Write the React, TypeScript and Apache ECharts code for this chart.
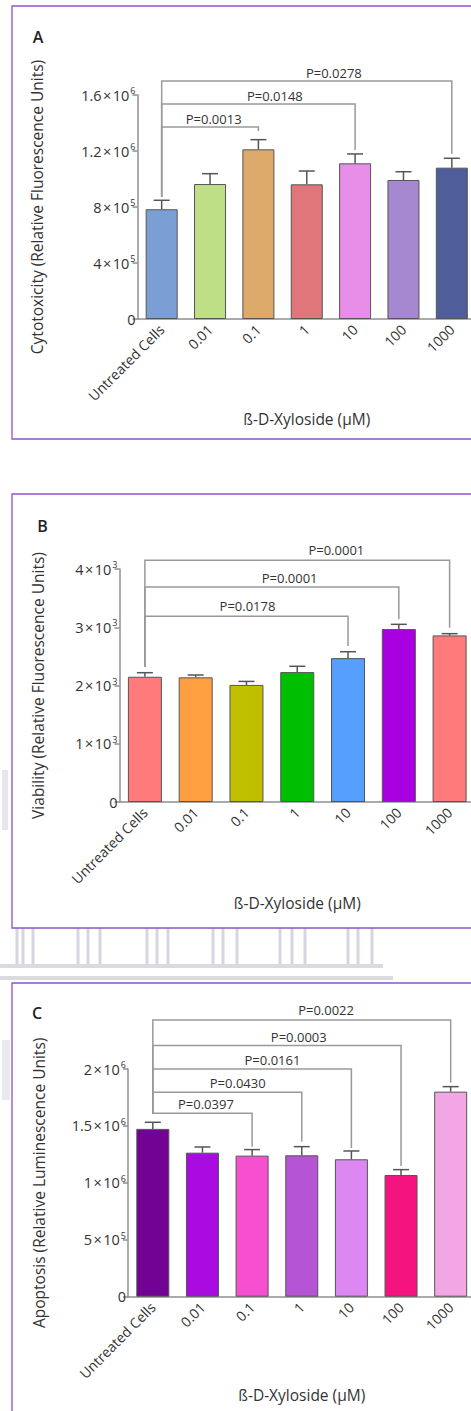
import React, { useEffect, useRef } from "react";
import * as echarts from "echarts";

const FONT = '"Open Sans", "Noto Sans", sans-serif';

const categories = ["Untreated Cells", "0.01", "0.1", "1", "10", "100", "1000"];
const xTitle = "ß-D-Xyloside (µM)";

// Panel A — Cytotoxicity
const valuesA = [7.84e5, 9.64e5, 12.12e5, 9.62e5, 11.12e5, 9.93e5, 10.81e5];
const errorsA = [0.64e5, 0.74e5, 0.69e5, 0.95e5, 0.67e5, 0.59e5, 0.67e5];
const colorsA = ["#7B9FD4", "#BEDF86", "#DDAA6C", "#E07679", "#E68EE8", "#A688D0", "#4F5D9A"];
const pLabelsA = ["P=0.0013", "P=0.0148", "P=0.0278"];
const pTargetsA = [2, 4, 6];
const pLevelsA = [13.71e5, 15.36e5, 17.0e5];
const pEndsA = [13.43e5, 12.07e5, 11.79e5];
const pStartA = 8.71e5;
const pTextXA = [1.075, 2.34, 3.56];
const pTextYA = [14.29e5, 15.93e5, 17.57e5];
const yMaxA = 1.6e6;
const yStepA = 4e5;

// Panel B — Viability
const valuesB = [2150, 2140, 2010, 2230, 2470, 2970, 2860];
const errorsB = [70, 40, 60, 100, 110, 80, 30];
const colorsB = ["#FF7B7B", "#FF9F40", "#BFBF00", "#00BF00", "#569FFF", "#A800E0", "#FF7B7B"];
const pLabelsB = ["P=0.0178", "P=0.0001", "P=0.0001"];
const pTargetsB = [4, 5, 6];
const pLevelsB = [3190, 3693, 4151];
const pEndsB = [2676, 3139, 2990];
const pStartB = 2316;
const pTextXB = [2.02, 2.85, 3.77];
const pTextYB = [3362, 3842, 4322];
const yMaxB = 4000;
const yStepB = 1000;

// Panel C — Apoptosis
const valuesC = [14.74e5, 12.65e5, 12.39e5, 12.42e5, 12.07e5, 10.69e5, 18.01e5];
const errorsC = [0.58e5, 0.5e5, 0.53e5, 0.76e5, 0.73e5, 0.47e5, 0.44e5];
const colorsC = ["#720294", "#A90BE0", "#F64FD0", "#B555D6", "#DC87F2", "#F5137F", "#F2A6E4"];
const pLabelsC = ["P=0.0397", "P=0.0430", "P=0.0161", "P=0.0003", "P=0.0022"];
const pTargetsC = [2, 3, 4, 5, 6];
const pLevelsC = [16.12e5, 17.96e5, 20.01e5, 22.06e5, 24.31e5];
const pEndsC = [13.18e5, 13.62e5, 13.07e5, 11.49e5, 18.8e5];
const pStartC = 16.05e5;
const pTextXC = [1.07, 1.71, 2.41, 2.94, 3.49];
const pTextYC = [16.93e5, 18.78e5, 20.8e5, 22.82e5, 25.19e5];
const yMaxC = 2e6;
const yStepC = 5e5;

const panels = [
  {
    letter: "A", yTitle: "Cytotoxicity (Relative Fluorescence Units)",
    values: valuesA, errors: errorsA, colors: colorsA,
    pLabels: pLabelsA, pTargets: pTargetsA, pLevels: pLevelsA, pEnds: pEndsA, pStart: pStartA,
    pTextX: pTextXA, pTextY: pTextYA, yMax: yMaxA, yStep: yStepA,
    grid: { left: 137.5, top: 95, width: 338.5, height: 224 }, barWidth: 32,
    yNameGap: 92.5, xNameGap: 92, frame: { y: 6, h: 433 }, letterPos: [38, 37],
  },
  {
    letter: "B", yTitle: "Viability (Relative Fluorescence Units)",
    values: valuesB, errors: errorsB, colors: colorsB,
    pLabels: pLabelsB, pTargets: pTargetsB, pLevels: pLevelsB, pEnds: pEndsB, pStart: pStartB,
    pTextX: pTextXB, pTextY: pTextYB, yMax: yMaxB, yStep: yStepB,
    grid: { left: 119.5, top: 569, width: 355.5, height: 233 }, barWidth: 34,
    yNameGap: 73.5, xNameGap: 93, frame: { y: 494, h: 434 }, letterPos: [42.5, 526],
  },
  {
    letter: "C", yTitle: "Apoptosis (Relative Luminescence Units)",
    values: valuesC, errors: errorsC, colors: colorsC,
    pLabels: pLabelsC, pTargets: pTargetsC, pLevels: pLevelsC, pEnds: pEndsC, pStart: pStartC,
    pTextX: pTextXC, pTextY: pTextYC, yMax: yMaxC, yStep: yStepC,
    grid: { left: 128, top: 1069, width: 347.5, height: 227.7 }, barWidth: 33,
    yNameGap: 81, xNameGap: 90, frame: { y: 983, h: 460 }, letterPos: [37, 1012.5],
  },
];

const AXIS_COLOR = "#8f8f8f";
const TEXT_COLOR = "#333";

function fmtTick(v: number) {
  if (v === 0) return "{m|0}";
  const e = Math.floor(Math.log10(v) + 1e-9);
  const m = +(v / Math.pow(10, e)).toFixed(2);
  return `{m|${m}\u200A×\u200A10}{s|${e}}`;
}

export default function App() {
  const ref = useRef<HTMLDivElement>(null);
  useEffect(() => {
    if (!ref.current) return;
    const chart = echarts.init(ref.current, null, { renderer: "svg" });

    const grids: any[] = [];
    const xAxes: any[] = [];
    const yAxes: any[] = [];
    const series: any[] = [];
    const graphics: any[] = [];

    // faint watermark (outside panels)
    const colX = [17, 23, 33, 78, 88, 100, 147, 157, 168, 213, 223, 237, 280, 292, 305, 348, 358, 372];
    colX.forEach((x) => {
      graphics.push({ type: "rect", shape: { x: x - 1.5, y: 928, width: 3, height: 36 }, style: { fill: "#d6d6de" } });
    });
    graphics.push({ type: "rect", shape: { x: 0, y: 964, width: 383, height: 4 }, style: { fill: "#dadae0" } });
    graphics.push({ type: "rect", shape: { x: 0, y: 976, width: 393, height: 4 }, style: { fill: "#dadae0" } });
    graphics.push({ type: "rect", shape: { x: 2, y: 770, width: 6, height: 60 }, style: { fill: "#e6e6ec" } });
    graphics.push({ type: "rect", shape: { x: 2, y: 1040, width: 8, height: 60 }, style: { fill: "#e9e9ee" } });

    panels.forEach((p, gi) => {
      graphics.push({
        type: "rect",
        shape: { x: 12, y: p.frame.y, width: 490, height: p.frame.h },
        style: { fill: "#fff", stroke: "#8E52C8", lineWidth: 1.3 },
      });
      graphics.push({
        type: "text", x: p.letterPos[0], y: p.letterPos[1],
        style: { text: p.letter, fontSize: 16, fontWeight: 600, fontFamily: FONT, fill: "#222", align: "center", verticalAlign: "middle" },
      });

      grids.push({ ...p.grid });
      xAxes.push({
        type: "category", gridIndex: gi, data: categories,
        axisLine: { lineStyle: { color: AXIS_COLOR, width: 1.5 } },
        axisTick: { alignWithLabel: true, length: 5, lineStyle: { color: AXIS_COLOR, width: 1.5 } },
        axisLabel: { rotate: 45, margin: 8, interval: 0, fontSize: 14, color: TEXT_COLOR, fontFamily: FONT },
        name: xTitle, nameLocation: "middle", nameGap: p.xNameGap,
        nameTextStyle: { fontSize: 15.5, color: TEXT_COLOR, fontFamily: FONT },
      });
      yAxes.push({
        type: "value", gridIndex: gi, min: 0, max: p.yMax, interval: p.yStep,
        splitLine: { show: false },
        axisLine: { show: true, lineStyle: { color: AXIS_COLOR, width: 1.5 } },
        axisTick: { show: true, length: 5, lineStyle: { color: AXIS_COLOR, width: 1.5 } },
        axisLabel: {
          margin: 2, formatter: fmtTick,
          rich: {
            m: { fontSize: 14.5, color: TEXT_COLOR, fontFamily: FONT, lineHeight: 18 },
            s: { fontSize: 9, color: TEXT_COLOR, fontFamily: FONT, verticalAlign: "top", lineHeight: 9, padding: [0, 0, 0, 1] },
          },
        },
        name: p.yTitle, nameLocation: "middle", nameGap: p.yNameGap,
        nameTextStyle: { fontSize: 15.5, color: TEXT_COLOR, fontFamily: FONT },
      });

      series.push({
        type: "bar", xAxisIndex: gi, yAxisIndex: gi, barWidth: p.barWidth,
        data: p.values.map((v, i) => ({
          value: v,
          itemStyle: { color: p.colors[i], borderColor: "#555", borderWidth: 1 },
        })),
      });

      series.push({
        type: "custom", xAxisIndex: gi, yAxisIndex: gi,
        encode: { x: 0, y: 1 },
        data: p.values.map((v, i) => [i, v, p.errors[i]]),
        renderItem: (params: any, api: any) => {
          const i = api.value(0);
          const v = api.value(1);
          const e = api.value(2);
          const b = api.coord([i, v]);
          const t = api.coord([i, v + e]);
          const hw = 8;
          const st = { stroke: "#555", lineWidth: 1.5 };
          return {
            type: "group",
            children: [
              { type: "line", shape: { x1: b[0], y1: b[1], x2: t[0], y2: t[1] }, style: st },
              { type: "line", shape: { x1: t[0] - hw, y1: t[1], x2: t[0] + hw, y2: t[1] }, style: st },
            ],
          };
        },
      });

      series.push({
        type: "custom", xAxisIndex: gi, yAxisIndex: gi,
        encode: { x: 0, y: 1 },
        data: p.pTargets.map((t, k) => [t, p.pLevels[k], p.pEnds[k]]),
        renderItem: (params: any, api: any) => {
          const k = params.dataIndex;
          const t = api.value(0);
          const lvl = api.value(1);
          const end = api.value(2);
          const s0 = api.coord([0, p.pStart]);
          const l0 = api.coord([0, lvl]);
          const r0 = api.coord([t, lvl]);
          const e0 = api.coord([t, end]);
          const fx = p.pTextX[k];
          const fl = Math.floor(fx);
          const a = api.coord([fl, p.pTextY[k]]);
          const c = api.coord([fl + 1, p.pTextY[k]]);
          const tx = a[0] + (fx - fl) * (c[0] - a[0]);
          return {
            type: "group",
            children: [
              {
                type: "polyline",
                shape: { points: [s0, l0, r0, e0] },
                style: { stroke: "#9a9a9a", lineWidth: 1.5, fill: "none" },
              },
              {
                type: "text", x: tx, y: a[1],
                style: { text: p.pLabels[k], fontSize: 13, fontFamily: FONT, fill: TEXT_COLOR, align: "center", verticalAlign: "middle" },
              },
            ],
          };
        },
      });
    });

    chart.setOption({
      animation: false,
      backgroundColor: "#fff",
      graphic: { elements: graphics },
      grid: grids,
      xAxis: xAxes,
      yAxis: yAxes,
      series,
    });
    return () => chart.dispose();
  }, []);

  return (
    <div style={{ position: "absolute", left: 0, top: 0, width: 471, height: 1411, overflow: "hidden", background: "#fff" }}>
      <div ref={ref} style={{ width: 490, height: 1411 }} />
    </div>
  );
}
